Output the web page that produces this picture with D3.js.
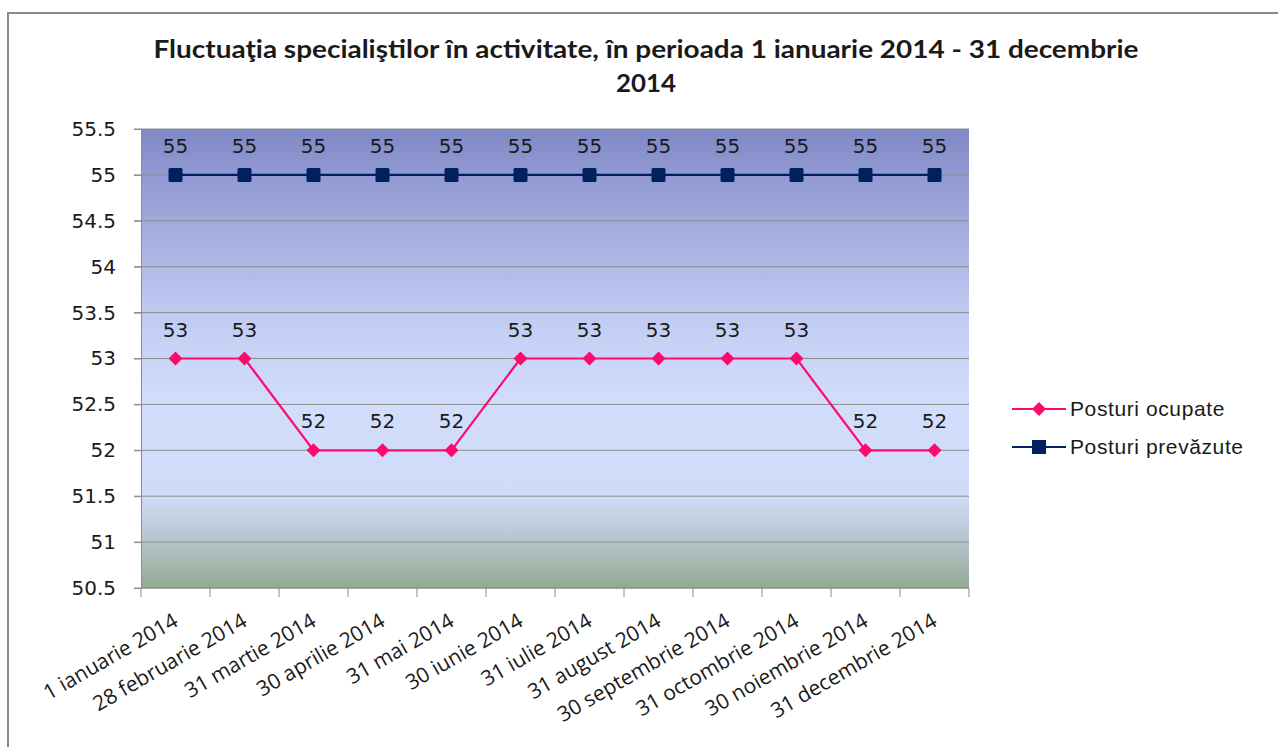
<!DOCTYPE html>
<html lang="ro">
<head>
<meta charset="UTF-8">
<title>Fluctuatia specialistilor</title>
<style>
  body { margin: 0; background: #fff; }
  svg text { fill: #1a1a1a; }
</style>
</head>
<body>
<svg id="chart" width="1278" height="747"></svg>
<script src="https://d3js.org/d3.v7.min.js"></script>
<script>
// Data
const categories = ["1 ianuarie 2014", "28 februarie 2014", "31 martie 2014", "30 aprilie 2014",
  "31 mai 2014", "30 iunie 2014", "31 iulie 2014", "31 august 2014", "30 septembrie 2014",
  "31 octombrie 2014", "30 noiembrie 2014", "31 decembrie 2014"];
const posturiOcupate = [53, 53, 52, 52, 52, 53, 53, 53, 53, 53, 52, 52];
const posturiPrevazute = [55, 55, 55, 55, 55, 55, 55, 55, 55, 55, 55, 55];
const yTicks = [50.5, 51, 51.5, 52, 52.5, 53, 53.5, 54, 54.5, 55, 55.5];
const seriesNames = ["Posturi ocupate", "Posturi prevăzute"];

const svg = d3.select("#chart");
const plot = { left: 141, right: 969, top: 129, bottom: 588 };

// outer frame
svg.append("rect")
  .attr("x", 8).attr("y", 13).attr("width", 1290).attr("height", 760)
  .attr("fill", "none").attr("stroke", "#8a8a8a").attr("stroke-width", 2);

// title
const title = svg.append("text")
  .attr("text-anchor", "middle")
  .style("font-family", "Lato, 'Open Sans', sans-serif")
  .style("font-weight", "bold")
  .style("font-size", "25px");
title.append("tspan").attr("x", 646).attr("y", 58)
  .attr("textLength", 985).attr("lengthAdjust", "spacingAndGlyphs")
  .text("Fluctuaţia specialiştilor în activitate, în perioada 1 ianuarie 2014 - 31 decembrie");
title.append("tspan").attr("x", 646).attr("y", 92)
  .attr("textLength", 60).attr("lengthAdjust", "spacingAndGlyphs")
  .text("2014");

// scales
const x = d3.scaleBand().domain(categories).range([plot.left, plot.right]);
const y = d3.scaleLinear().domain([50.5, 55.5]).range([plot.bottom, plot.top]);

// background gradient
const grad = svg.append("defs").append("linearGradient")
  .attr("id", "bg").attr("x1", 0).attr("y1", 0).attr("x2", 0).attr("y2", 1);
[[0, "#8189c6"], [0.42, "#c3cdf4"], [0.6, "#d2ddfc"], [0.8, "#d0dbf8"], [0.9, "#b5c4cc"], [1, "#92aa92"]]
  .forEach(([o, c]) => grad.append("stop").attr("offset", o).attr("stop-color", c));

svg.append("rect")
  .attr("x", plot.left).attr("y", plot.top)
  .attr("width", plot.right - plot.left).attr("height", plot.bottom - plot.top)
  .attr("fill", "url(#bg)");

// gridlines
svg.append("g")
  .selectAll("line")
  .data(yTicks)
  .join("line")
  .attr("x1", plot.left - 7).attr("x2", plot.right)
  .attr("y1", d => y(d)).attr("y2", d => y(d))
  .attr("stroke", "#8c8c8c").attr("stroke-width", 1);

// y axis
const yAxis = svg.append("g")
  .attr("transform", `translate(${plot.left},0)`)
  .call(d3.axisLeft(y).tickValues(yTicks).tickSize(7).tickPadding(18).tickFormat(d => String(d)));
yAxis.select(".domain").attr("stroke", "#8c8c8c");
yAxis.selectAll(".tick line").attr("stroke", "#8c8c8c");
yAxis.selectAll("text")
  .style("font-family", "'DejaVu Sans', Verdana, sans-serif")
  .style("font-size", "20px")
  .attr("fill", "#1a1a1a");

// x axis ticks at band boundaries
const xg = svg.append("g");
xg.append("line")
  .attr("x1", plot.left).attr("x2", plot.right)
  .attr("y1", plot.bottom).attr("y2", plot.bottom)
  .attr("stroke", "#8c8c8c");
xg.selectAll("line.tk")
  .data(d3.range(categories.length + 1))
  .join("line")
  .attr("class", "tk")
  .attr("x1", i => plot.left + i * x.step()).attr("x2", i => plot.left + i * x.step())
  .attr("y1", plot.bottom).attr("y2", plot.bottom + 9)
  .attr("stroke", "#8c8c8c");
xg.selectAll("text")
  .data(categories)
  .join("text")
  .attr("text-anchor", "end")
  .attr("transform", d => `translate(${x(d) + x.bandwidth() / 2 + 4},${plot.bottom + 37}) rotate(-30)`)
  .style("font-family", "'Open Sans', Lato, sans-serif")
  .style("font-size", "21px")
  .text(d => d);

const cx = d => x(d) + x.bandwidth() / 2;

// series lines
const line = d3.line().x(d => cx(d.c)).y(d => y(d.v));
const dOcup = categories.map((c, i) => ({ c, v: posturiOcupate[i] }));
const dPrev = categories.map((c, i) => ({ c, v: posturiPrevazute[i] }));

svg.append("path").datum(dPrev).attr("d", line)
  .attr("fill", "none").attr("stroke", "#002060").attr("stroke-width", 2.2);
svg.append("path").datum(dOcup).attr("d", line)
  .attr("fill", "none").attr("stroke", "#ff0a6c").attr("stroke-width", 2.2);

// markers
svg.append("g").selectAll("rect")
  .data(dPrev).join("rect")
  .attr("x", d => cx(d.c) - 7).attr("y", d => y(d.v) - 7)
  .attr("width", 14).attr("height", 14).attr("rx", 1.5)
  .attr("fill", "#002060");
svg.append("g").selectAll("path")
  .data(dOcup).join("path")
  .attr("transform", d => `translate(${cx(d.c)},${y(d.v)})`)
  .attr("d", "M0,-7L7,0L0,7L-7,0Z")
  .attr("fill", "#ff0a6c");

// data labels
const lbl = (data) => svg.append("g").selectAll("text")
  .data(data).join("text")
  .attr("x", d => cx(d.c)).attr("y", d => y(d.v) - 22)
  .attr("text-anchor", "middle")
  .style("font-family", "'DejaVu Sans', Verdana, sans-serif")
  .style("font-size", "20px")
  .text(d => d.v);
lbl(dPrev);
lbl(dOcup);

// legend
const legend = svg.append("g").attr("transform", "translate(1012,409)");
const colors = ["#ff0a6c", "#002060"];
seriesNames.forEach((name, i) => {
  const g = legend.append("g").attr("transform", `translate(0,${i * 38})`);
  g.append("line").attr("x1", 0).attr("x2", 54).attr("stroke", colors[i]).attr("stroke-width", 2.2);
  if (i === 0) g.append("path").attr("d", "M27,-7L34,0L27,7L20,0Z").attr("fill", colors[i]);
  else g.append("rect").attr("x", 20).attr("y", -7).attr("width", 14).attr("height", 14).attr("fill", colors[i]);
  g.append("text").attr("x", 58).attr("y", 7)
    .style("font-family", "'Liberation Sans', Arial, sans-serif")
    .style("font-size", "21px")
    .style("letter-spacing", "0.6px")
    .text(name);
});
</script>
</body>
</html>
